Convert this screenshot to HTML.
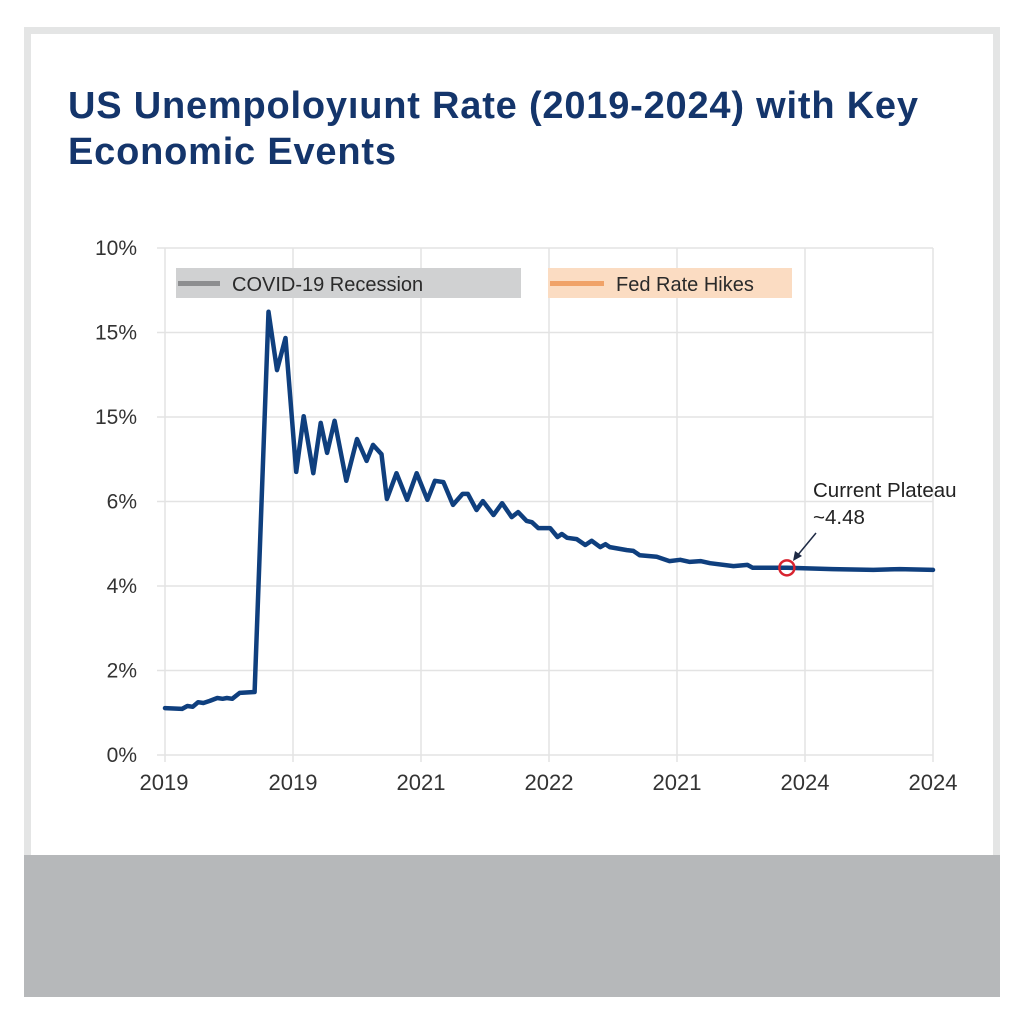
<!DOCTYPE html>
<html><head><meta charset="utf-8"><style>
body{margin:0;width:1024px;height:1024px;background:#fff;position:relative;overflow:hidden;font-family:"Liberation Sans",sans-serif}
#card{position:absolute;left:24px;top:27px;width:962px;height:828px;border:7px solid #e4e5e5;border-bottom:none;background:#fff}
#band{position:absolute;left:24px;top:855px;width:976px;height:142px;background:#b6b8ba}
svg{position:absolute;left:0;top:0}
</style></head><body>
<div id="card"></div>
<div id="band"></div>
<svg id="chart" width="1024" height="1024">
<text x="68" y="118" font-size="38" font-weight="bold" letter-spacing="0.8" fill="#14356b">US Unempoloyıunt Rate (2019-2024) with Key</text>
<text x="68" y="164" font-size="38" font-weight="bold" letter-spacing="0.8" fill="#14356b">Economic Events</text>
<g id="grid"></g>
<rect x="176" y="268" width="345" height="30" fill="#d0d1d2"/>
<rect x="178" y="281" width="42" height="5" fill="#8d8e90"/>
<text x="232" y="291" font-size="20" fill="#2a2a2a">COVID-19 Recession</text>
<rect x="548" y="268" width="244" height="30" fill="#fbdcc2"/>
<rect x="550" y="281" width="54" height="5" fill="#f0a268"/>
<text x="616" y="291" font-size="20" fill="#2a2a2a">Fed Rate Hikes</text>
<g id="series"></g>
<text x="813" y="497" font-size="20.5" fill="#222">Current Plateau</text>
<text x="813" y="524" font-size="20.5" fill="#222">~4.48</text>
<line x1="816" y1="533" x2="797" y2="556" stroke="#1e2a45" stroke-width="1.5"/>
<polygon points="793,561 795,551 802,556" fill="#1e2a45"/>
</svg>
<script>
const months=[0,1.6,2.1,2.6,3.1,3.6,4.2,4.9,5.4,5.8,6.3,7.0,8.4,9.7,10.5,11.3,12.3,13.0,13.9,14.6,15.2,15.9,17.0,18.0,18.9,19.5,20.3,20.8,21.7,22.7,23.6,24.6,25.3,26.1,27.0,27.9,28.4,29.2,29.8,30.8,31.6,32.5,33.1,33.9,34.4,35.0,36.1,36.8,37.2,37.7,38.6,39.4,40.0,40.8,41.3,41.7,43.3,43.9,44.5,46.1,47.3,48.3,49.2,50.2,51.1,53.3,54.6,55.1,58.3,62.6,66.4,68.9,72];
const rates=[1.11,1.09,1.16,1.14,1.25,1.23,1.28,1.35,1.33,1.35,1.33,1.47,1.49,10.49,9.11,9.87,6.70,8.02,6.67,7.86,7.15,7.91,6.49,7.48,6.96,7.34,7.12,6.06,6.67,6.04,6.67,6.04,6.49,6.46,5.92,6.18,6.18,5.80,6.01,5.68,5.96,5.63,5.75,5.54,5.51,5.37,5.37,5.16,5.23,5.14,5.11,4.97,5.07,4.92,4.99,4.92,4.85,4.83,4.73,4.69,4.59,4.62,4.57,4.59,4.54,4.47,4.50,4.43,4.43,4.40,4.38,4.40,4.38];
const yTickValues=[0,2,4,6,8,10,12];
const yTickLabels=["0%","2%","4%","6%","15%","15%","10%"];
const xTickMonths=[0,12,24,36,48,60,72];
const xTickLabels=["2019","2019","2021","2022","2021","2024","2024"];
const markerMonth=58.3, markerRate=4.43;
const X=m=>165+m*(768/72), Y=v=>755-v*(507/12);
const NS="http://www.w3.org/2000/svg";
const grid=document.getElementById('grid'), series=document.getElementById('series');
function mk(tag,attrs,parent){const e=document.createElementNS(NS,tag);for(const k in attrs)e.setAttribute(k,attrs[k]);parent.appendChild(e);return e;}
yTickValues.forEach((v,i)=>{
  const l=mk('line',{x1:157,x2:933,y1:Y(v),y2:Y(v),stroke:'#e3e3e3','stroke-width':1.5},grid);
  
  
  const t=mk('text',{x:137,y:Y(v)+7,'font-size':21,fill:'#333','text-anchor':'end'},grid);
  t.textContent=yTickLabels[i];
  
  
});
xTickMonths.forEach((m,i)=>{
  const l=mk('line',{x1:X(m),x2:X(m),y1:Y(12),y2:762,stroke:'#e3e3e3','stroke-width':1.5},grid);
  
  
  const t=mk('text',{x:X(m)+(i==0?-1:0),y:790,'font-size':22,fill:'#333','text-anchor':'middle'},grid);
  t.textContent=xTickLabels[i];
  
  
});
const d=months.map((m,i)=>(i?'L':'M')+X(m).toFixed(1)+','+Y(rates[i]).toFixed(1)).join('');
const p=mk('path',{d:d,fill:'none',stroke:'#0f3f7e','stroke-width':4.5,'stroke-linejoin':'round','stroke-linecap':'round'},series);


const c=mk('circle',{cx:X(markerMonth),cy:Y(markerRate),r:7.5,fill:'none',stroke:'#d8232f','stroke-width':2.5},series);


</script>
</body></html>
